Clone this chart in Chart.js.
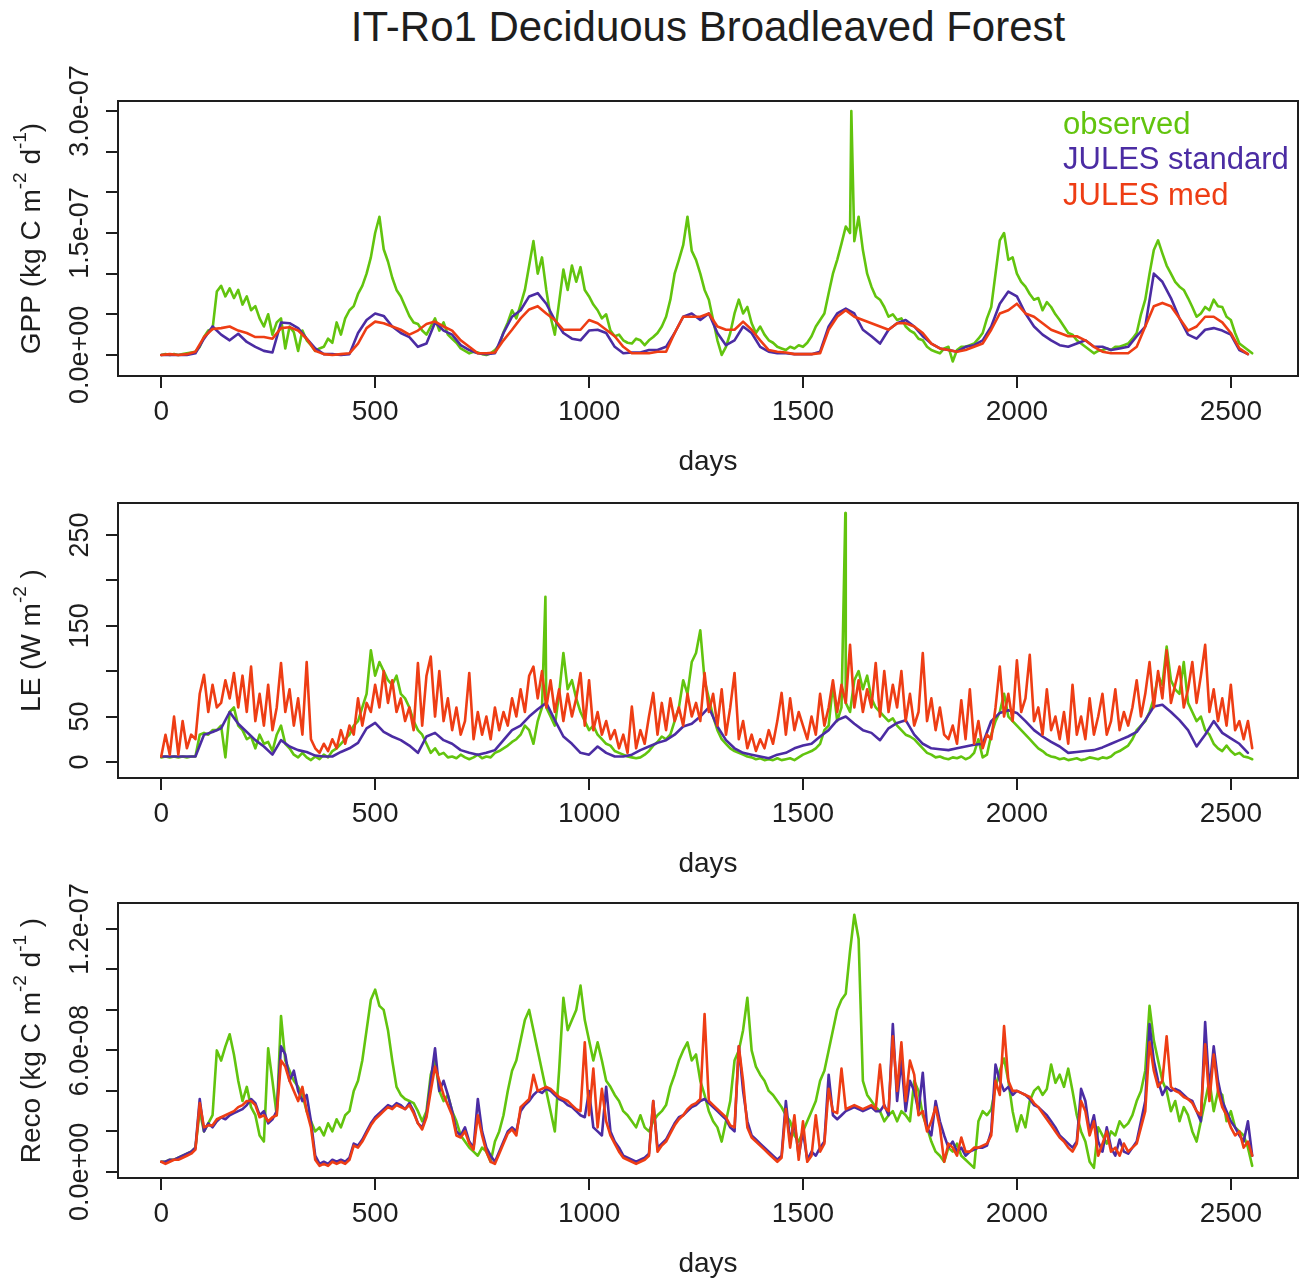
<!DOCTYPE html>
<html>
<head>
<meta charset="utf-8">
<title>IT-Ro1 Deciduous Broadleaved Forest</title>
<script src="https://cdn.jsdelivr.net/npm/chart.js@4.4.1/dist/chart.umd.min.js"></script>
<style>
  body { margin: 0; background: #fff; width: 1308px; height: 1282px; overflow: hidden; position: relative; }
  h1 { position: absolute; left: 118px; width: 1180px; top: 3px; margin: 0; text-align: center;
       font: normal 42px "Liberation Sans", Arial, sans-serif; color: #1e1e1e; }
  canvas { position: absolute; left: 0; }
</style>
</head>
<body>
<h1>IT-Ro1 Deciduous Broadleaved Forest</h1>
<canvas id="gpp" width="1308" height="420" style="top:60px"></canvas>
<canvas id="le" width="1308" height="420" style="top:462px"></canvas>
<canvas id="reco" width="1308" height="420" style="top:862px"></canvas>
<script>
const FONT = '"Liberation Sans", Arial, sans-serif';
const INK = '#1e1e1e';
const GREEN = '#62c40e';
const PURPLE = '#4b2ca3';
const RED = '#ee3d14';

const dayTicks = [0, 500, 1000, 1500, 2000, 2500];
const dayMin = -101;
const dayMax = 2657;

// carbon fluxes are stored in 1e-9 kg C m-2 d-1
const carbonUnit = 1e-9;

// GPP: observed sampled every 10 days, JULES runs every 20 days
const gppObs = [
  0,1,0,1,0,1,2,3,4,10,
  22,30,32,78,85,72,82,70,80,62,
  72,55,60,45,35,50,25,40,45,8,
  35,28,5,30,18,12,5,8,10,20,
  15,40,25,45,55,60,75,85,100,120,
  150,170,130,115,95,80,72,60,48,40,
  38,30,25,35,45,30,40,25,20,15,
  8,5,2,4,3,1,0,2,6,12,
  28,40,55,45,62,80,110,140,100,120,
  80,47,25,65,105,80,110,90,108,80,
  72,62,55,45,50,30,23,25,18,15,
  14,20,18,12,18,22,27,35,47,68,
  100,117,135,170,128,117,100,80,68,43,
  18,0,10,27,51,68,51,59,39,27,
  35,25,18,15,10,8,6,10,8,12,
  10,15,23,35,43,51,76,100,117,137,
  158,150,140,170,129,100,84,72,68,59,
  47,50,43,45,35,30,27,20,18,10,
  6,4,2,8,10,-8,6,10,10,12,
  14,20,27,45,59,100,141,150,117,120,
  100,90,84,75,68,70,55,65,59,50,
  43,35,27,25,18,14,10,6,2,5,
  6,8,6,10,10,12,14,20,27,50,
  68,100,129,141,125,110,100,90,84,80,
  70,59,47,51,59,55,68,60,59,47,
  43,27,14,10,6,2
];
const gppObsPeaks = [[1613, 300]];
const gppStd = [
  0,0,0,0,2, 20,35,25,18,26, 16,10,5,3,40, 39,33,20,8,1, 1,0,1,27,43,
  51,48,35,27,22, 10,14,40,30,25, 12,6,2,1,2, 27,47,55,72,76, 63,43,27,20,18,
  30,31,27,10,2, 3,3,6,6,10, 27,47,51,43,51, 27,12,18,35,27, 10,4,2,2,1,
  1,1,4,35,51, 57,51,31,23,14, 31,39,43,35,23, 14,8,6,4,10, 12,18,35,63,78,
  72,51,35,25,18, 12,10,14,18,10, 10,6,8,10,23, 35,100,90,70,45, 25,20,31,33,30,
  25,6,1
];
const gppMed = [
  0,1,0,1,4, 22,32,33,35,30, 27,22,22,20,33, 34,30,20,5,1, 0,1,2,14,33,
  41,39,35,31,25, 30,38,41,35,30, 18,10,2,2,3, 18,31,45,56,60, 51,43,31,31,31,
  43,39,31,23,10, 2,2,2,4,4, 27,47,47,47,51, 35,31,31,41,31, 18,6,4,3,1,
  1,1,2,31,47, 55,47,43,39,35, 31,39,39,35,27, 14,8,6,4,6, 10,14,31,51,55,
  63,51,47,39,31, 27,23,23,18,10, 4,2,2,2,10, 35,60,64,60,45, 30,35,47,47,40,
  27,8,1
];
const gppTicks = [0, 5e-8, 1e-7, 1.5e-7, 2e-7, 2.5e-7, 3e-7];
const gppLabels = [0, 1.5e-7, 3e-7];

// LE in W m-2: observed and JULES med every 10 days, JULES standard every 20 days
const leObs = [
  5,6,5,6,5,6,5,6,6,30,
  32,30,35,35,40,5,55,60,40,35,
  25,28,15,30,20,22,12,30,40,20,
  15,8,5,10,5,2,6,3,8,5,
  12,15,20,25,30,40,45,60,75,123,
  95,110,100,90,85,95,75,70,60,45,
  35,30,20,10,15,8,10,5,6,4,
  8,5,3,5,8,4,6,5,10,12,
  15,18,22,25,30,40,35,20,45,60,
  60,50,40,75,120,80,90,70,55,45,
  35,40,30,25,20,18,12,10,8,6,
  5,4,5,8,12,18,22,28,25,30,
  45,60,90,75,110,120,145,90,70,50,
  35,25,20,15,12,10,8,6,5,3,
  4,2,3,2,4,2,3,4,2,5,
  8,10,12,15,20,35,40,85,45,60,
  65,55,90,100,80,95,70,60,55,50,
  45,48,40,35,30,28,25,20,15,10,
  8,5,6,4,3,5,4,6,3,5,
  10,25,5,8,30,45,55,75,50,45,
  40,35,30,25,20,15,12,8,6,5,
  3,4,2,3,4,2,3,5,4,3,
  5,4,6,10,12,15,18,25,35,40,
  45,55,70,95,85,127,90,80,75,110,
  65,55,45,50,35,30,20,15,12,18,
  12,8,10,6,5,3
];
const leObsPeaks = [[898, 182], [1599, 274]];
const leStd = [
  6,6,6,6,6, 30,33,37,55,42, 33,24,17,8,24, 17,13,11,7,6, 6,11,15,21,37,
  43,33,28,24,18, 10,28,32,24,20, 13,10,8,10,13, 24,35,40,50,58, 65,46,28,20,10,
  8,17,10,6,6, 8,13,17,21,24, 30,39,42,50,60, 39,24,15,10,8, 6,4,8,10,15,
  18,20,28,35,46, 50,42,35,32,24, 37,43,46,30,20, 15,14,13,15,17, 19,20,45,54,57,
  54,45,35,28,22, 17,10,11,12,13, 16,20,24,28,33, 46,61,63,55,46, 35,17,30,45,32,
  26,20,10
];
const leMed = [
  6,30,8,50,8,45,15,30,25,75,
  96,55,85,60,65,90,70,98,60,95,
  55,105,45,75,40,85,35,60,109,55,
  80,40,70,30,110,25,15,10,20,12,
  25,15,35,20,40,30,70,40,65,55,
  85,60,100,65,90,55,70,45,60,35,
  109,40,95,116,50,100,45,70,35,60,
  30,45,98,25,55,30,50,25,60,35,
  55,40,70,50,80,55,95,105,70,100,
  60,90,55,80,45,75,50,70,98,40,
  90,35,55,30,45,25,35,15,30,10,
  61,15,35,20,50,76,30,65,35,70,
  45,60,40,75,50,65,45,98,55,75,
  40,80,30,60,98,25,45,15,30,12,
  25,15,35,20,45,76,30,70,35,55,
  40,25,50,30,75,40,60,90,55,85,
  65,129,60,90,55,80,60,109,50,100,
  55,85,60,100,45,75,40,55,120,45,
  70,35,60,30,25,40,20,68,25,80,
  20,45,15,30,25,60,105,50,75,45,
  112,55,70,118,45,60,30,80,35,50,
  25,55,20,85,30,50,25,70,30,50,
  75,30,45,80,35,55,40,60,90,50,
  75,110,60,100,70,123,65,85,105,60,
  80,110,65,95,129,55,80,45,70,40,
  85,35,45,25,45,15
];
const leTicks = [0, 50, 100, 150, 200, 250];
const leLabels = [0, 50, 150, 250];

// Reco: all three series every 10 days
const recoObs = [
  5,5,6,6,7,8,9,10,12,30,
  20,24,28,60,55,62,68,58,45,35,
  42,32,28,18,15,61,45,28,77,55,
  50,45,42,38,30,25,20,22,18,24,
  20,26,22,28,30,40,45,55,70,85,
  90,82,80,70,55,42,38,36,35,34,
  30,25,30,48,55,40,35,38,30,25,
  18,15,12,10,8,12,10,5,15,20,
  28,40,50,55,65,75,80,70,60,50,
  40,30,20,50,86,70,75,80,92,75,
  65,55,64,55,45,42,38,35,30,28,
  25,22,28,22,20,25,28,30,33,42,
  48,55,60,64,55,58,45,38,30,25,
  22,15,25,35,55,60,70,86,60,52,
  48,45,40,38,35,32,28,25,18,15,
  20,25,30,35,45,50,60,70,80,85,
  88,109,127,115,45,38,35,32,30,25,
  28,30,25,30,28,25,45,40,28,22,
  15,10,8,5,12,10,14,8,6,4,
  2,25,30,28,31,42,50,56,45,30,
  20,28,22,35,40,42,38,41,53,44,
  48,42,51,40,28,20,15,5,2,22,
  18,14,20,18,25,22,24,28,35,40,
  50,82,65,55,45,40,30,35,25,32,
  28,20,15,25,35,45,30,40,38,25,
  30,22,20,18,12,3
];
const recoStd = [
  5,5,6,6,7,8,9,10,12,36,
  20,24,22,25,27,26,28,29,30,31,
  33,36,34,28,30,24,26,30,62,58,
  45,50,40,35,38,25,8,4,5,4,
  6,5,6,5,7,14,13,16,20,24,
  27,29,31,33,32,34,33,31,34,30,
  24,22,28,45,61,40,45,38,30,20,
  18,22,15,12,36,20,12,8,5,10,
  15,20,22,20,30,33,35,38,40,39,
  41,40,38,36,35,33,32,30,28,27,
  40,22,20,18,42,20,15,12,8,7,
  6,5,6,7,9,35,12,14,16,20,
  24,27,28,30,32,33,35,36,34,32,
  30,28,26,22,20,62,40,25,18,16,
  14,12,10,8,6,8,35,15,25,8,
  20,6,10,8,12,15,48,28,26,28,
  30,31,32,31,30,31,32,30,30,33,
  28,73,35,55,30,45,40,30,49,22,
  18,35,25,18,12,15,10,12,8,10,
  11,12,12,13,20,53,45,40,42,38,
  40,39,38,36,33,32,30,28,25,22,
  18,16,14,12,15,41,35,20,28,15,
  10,22,12,8,16,10,9,12,15,25,
  35,73,55,45,38,42,40,41,40,38,
  36,35,30,25,74,40,62,45,35,30,
  25,22,18,15,25,8
];
const recoMed = [
  5,4,5,6,6,7,8,9,11,34,
  22,23,23,26,27,28,29,30,32,33,
  35,35,33,27,28,25,27,28,55,52,
  45,40,35,42,30,22,6,3,4,3,
  5,4,5,4,6,13,12,15,19,23,
  26,28,30,32,31,33,32,31,33,29,
  24,21,27,40,52,45,38,33,28,18,
  17,20,14,11,28,18,10,5,4,9,
  14,19,21,18,32,34,36,48,40,41,
  42,41,39,37,36,35,33,31,30,64,
  28,51,22,41,25,18,14,10,7,6,
  5,4,5,6,8,35,10,13,15,19,
  23,26,28,31,33,34,36,78,35,33,
  31,29,27,23,22,62,45,22,17,15,
  13,11,9,7,5,7,31,12,28,6,
  25,5,8,28,10,14,41,30,29,51,
  31,32,33,32,31,32,33,31,53,32,
  30,67,40,64,35,55,48,28,30,20,
  25,32,22,5,14,12,8,17,10,10,
  12,12,13,14,18,45,38,72,45,40,
  40,39,38,37,34,32,29,26,23,20,
  17,15,12,10,14,35,30,18,25,8,
  14,20,10,12,8,14,10,12,14,22,
  30,64,50,42,45,67,42,40,39,37,
  36,34,30,28,63,35,58,40,32,28,
  22,18,20,12,15,8
];
const recoTicks = [0, 2e-8, 4e-8, 6e-8, 8e-8, 1e-7, 1.2e-7];
const recoLabels = [0, 6e-8, 1.2e-7];

function series(vals, step, unit, peaks = []) {
  const pts = vals.map((v, i) => ({ x: i * step, y: v * unit }));
  peaks.forEach(([d, v]) => pts.push({ x: d, y: v * unit }));
  return pts.sort((a, b) => a.x - b.x);
}

// R style scientific labels: 1.5e-07, 0.0e+00
function sci(v) {
  const [m, e] = v.toExponential(1).split('e');
  return m + 'e' + (+e < 0 ? '-' : '+') + String(Math.abs(+e)).padStart(2, '0');
}

// box round the plot, vertical y labels, y title with superscripts, text legend
function frame(cfg) {
  return {
    id: 'frame',
    afterDraw(chart) {
      const { ctx, chartArea: a } = chart;
      const y = chart.scales.y;
      ctx.save();
      ctx.strokeStyle = INK;
      ctx.lineWidth = 2;
      ctx.strokeRect(a.left, a.top, a.right - a.left, a.bottom - a.top);

      ctx.fillStyle = INK;
      ctx.textAlign = 'center';
      ctx.textBaseline = 'middle';
      ctx.font = `27px ${FONT}`;
      cfg.labels.forEach(v => {
        ctx.save();
        ctx.translate(81, y.getPixelForValue(v));
        ctx.rotate(-Math.PI / 2);
        ctx.fillText(cfg.format(v), 0, 0);
        ctx.restore();
      });

      ctx.save();
      ctx.translate(30, (a.top + a.bottom) / 2);
      ctx.rotate(-Math.PI / 2);
      ctx.textAlign = 'left';
      ctx.textBaseline = 'alphabetic';
      const fontOf = sup => `${sup ? 19 : 28}px ${FONT}`;
      let w = 0;
      cfg.title.forEach(([t, sup]) => { ctx.font = fontOf(sup); w += ctx.measureText(t).width; });
      let x = -w / 2;
      cfg.title.forEach(([t, sup]) => {
        ctx.font = fontOf(sup);
        ctx.fillText(t, x, sup ? -4 : 10);
        x += ctx.measureText(t).width;
      });
      ctx.restore();

      if (cfg.legend) {
        ctx.textAlign = 'left';
        ctx.font = `31px ${FONT}`;
        chart.data.datasets.forEach((ds, i) => {
          ctx.fillStyle = ds.borderColor;
          ctx.fillText(ds.label, 1063, 65 + i * 35.5);
        });
      }
      ctx.restore();
    }
  };
}

function panel(id, cfg) {
  new Chart(document.getElementById(id), {
    type: 'line',
    data: {
      datasets: [
        { label: 'observed', data: cfg.obs, borderColor: GREEN, order: 3 },
        { label: 'JULES standard', data: cfg.std, borderColor: PURPLE, order: 2 },
        { label: 'JULES med', data: cfg.med, borderColor: RED, order: 1 }
      ]
    },
    options: {
      responsive: false,
      animation: false,
      events: [],
      elements: {
        point: { radius: 0 },
        line: { borderWidth: 2.6, tension: 0, borderJoinStyle: 'round', borderCapStyle: 'round' }
      },
      layout: { padding: { top: 41, right: 10, left: 0, bottom: 0 } },
      scales: {
        x: {
          type: 'linear', min: dayMin, max: dayMax,
          afterBuildTicks: s => { s.ticks = dayTicks.map(v => ({ value: v })); },
          afterFit: s => { s.height = 104; },
          grid: { drawOnChartArea: false, tickLength: 12, color: INK, lineWidth: 2 },
          border: { display: false },
          ticks: { color: INK, font: { size: 28, family: FONT }, padding: 7, maxRotation: 0, autoSkip: false,
                   callback: v => String(v) },
          title: { display: true, text: 'days', color: INK, font: { size: 28, family: FONT },
                   padding: { top: 0, bottom: 1 } }
        },
        y: {
          min: cfg.yMin, max: cfg.yMax,
          afterBuildTicks: s => { s.ticks = cfg.ticks.map(v => ({ value: v })); },
          afterFit: s => { s.width = 118; },
          grid: { drawOnChartArea: false, tickLength: 12, color: INK, lineWidth: 2 },
          border: { display: false },
          ticks: { display: false }
        }
      },
      plugins: { legend: { display: false }, tooltip: { enabled: false } }
    },
    plugins: [frame(cfg)]
  });
}

panel('gpp', {
  obs: series(gppObs, 10, carbonUnit, gppObsPeaks),
  std: series(gppStd, 20, carbonUnit),
  med: series(gppMed, 20, carbonUnit),
  yMin: -25.9e-9, yMax: 312.4e-9,
  ticks: gppTicks, labels: gppLabels, format: sci,
  title: [['GPP (kg C m'], ['-2', true], [' d'], ['-1', true], [')']],
  legend: true
});

panel('le', {
  obs: series(leObs, 10, 1, leObsPeaks),
  std: series(leStd, 20, 1),
  med: series(leMed, 10, 1),
  yMin: -17.7, yMax: 285.2,
  ticks: leTicks, labels: leLabels, format: v => String(v),
  title: [['LE (W m'], ['-2', true], [' )']]
});

panel('reco', {
  obs: series(recoObs, 10, carbonUnit),
  std: series(recoStd, 10, carbonUnit),
  med: series(recoMed, 10, carbonUnit),
  yMin: -3.0e-9, yMax: 132.8e-9,
  ticks: recoTicks, labels: recoLabels, format: sci,
  title: [['Reco (kg C m'], ['-2', true], [' d'], ['-1', true], [' )']]
});
</script>
</body>
</html>
